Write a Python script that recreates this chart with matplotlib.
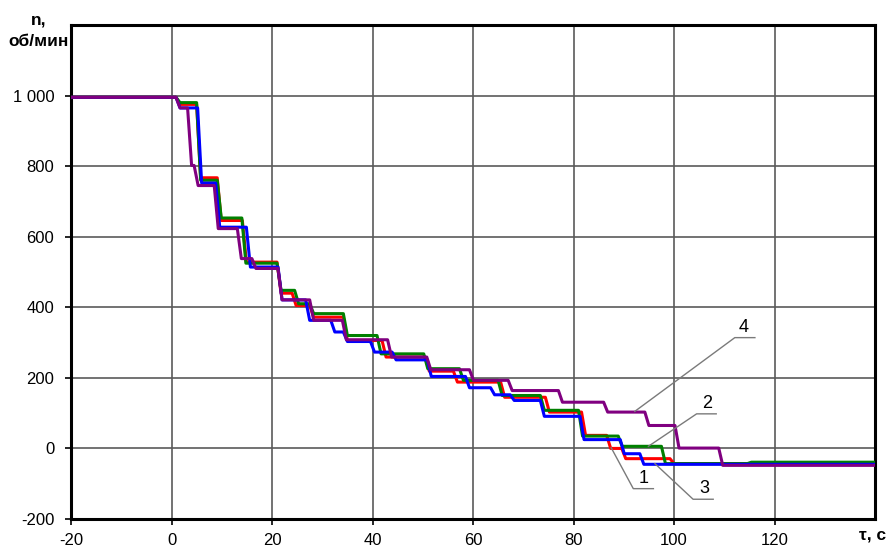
import matplotlib
matplotlib.use('Agg')
from matplotlib import pyplot as plt
from matplotlib.ticker import FuncFormatter
import numpy as np

plt.rcParams['font.family'] = ['Liberation Sans', 'DejaVu Sans']
plt.rcParams['axes.unicode_minus'] = False

# switching times (s) and speed levels (rpm) for each curve:
# level[i] holds from switch[i-1] until switch[i]
t_start, t_end = -20, 140

switch_1 = [0.9, 5.0, 9.1, 14.1, 21.0, 24.0, 27.5, 34.2, 41.9, 50.5, 56.1, 65.5, 74.4, 81.6, 86.6, 89.6, 99.2]
level_1 = [995, 975, 767, 646, 528, 440, 405, 372, 306, 259, 219, 188, 145, 103, 37, 0, -29, -43]

switch_2 = [0.9, 5.0, 9.1, 14.0, 21.0, 24.5, 27.5, 34.2, 40.9, 50.2, 57.3, 65.0, 73.4, 81.0, 88.9, 97.5, 114.6]
level_2 = [995, 980, 760, 653, 525, 448, 410, 382, 320, 268, 226, 193, 150, 108, 35, 6, -43, -39]

switch_3 = [0.9, 5.2, 8.8, 14.9, 21.2, 26.7, 31.7, 34.2, 39.6, 43.9, 50.9, 58.5, 63.5, 67.4, 73.4, 81.3, 89.3, 93.2]
level_3 = [995, 965, 752, 627, 514, 421, 363, 330, 303, 273, 251, 204, 172, 152, 136, 91, 25, -15, -45]

switch_4 = [0.9, 3.2, 4.5, 8.5, 13.1, 16.0, 21.2, 27.5, 34.0, 43.0, 50.8, 59.3, 67.0, 77.0, 86.0, 94.2, 100.2, 108.9]
level_4 = [995, 965, 802, 745, 623, 538, 510, 421, 363, 308, 259, 223, 193, 164, 131, 103, 65, 1, -48]

colors = ['#ff0000', '#008000', '#0000ff', '#800080']

# curve labels: (text, leader start, elbow, underline end, text position)
labels = [
    ('1', (87.5, 2), (91.9, -114), (95.9, -114), (93.9, -84)),
    ('2', (94.9, 6), (104.5, 98), (108.4, 98), (106.5, 126)),
    ('3', (96.2, -43), (103.8, -144), (107.8, -144), (106.0, -114)),
    ('4', (92.2, 105), (112.1, 314), (116.1, 314), (113.9, 344)),
]

x_ticks = np.arange(-20, 121, 20)
y_ticks = np.arange(-200, 1001, 200)

RAMP = 0.8  # duration of each speed change, s


def step_path(switch, level):
    t = [t_start]
    n = [level[0]]
    for i, ts in enumerate(switch):
        t += [ts, ts + RAMP]
        n += [level[i], level[i + 1]]
    t.append(t_end)
    n.append(level[-1])
    return t, n


fig = plt.figure(figsize=(8.9, 5.47), dpi=100)
ax = fig.add_axes([71 / 890, 1 - 519 / 547, 804 / 890, 494 / 547])

ax.grid(True, color='#5a5a5a', lw=1.2)
ax.set_axisbelow(True)

for sw, lv, c in zip([switch_1, switch_2, switch_3, switch_4],
                     [level_1, level_2, level_3, level_4], colors):
    t, n = step_path(sw, lv)
    ax.plot(t, n, color=c, lw=2.2, solid_joinstyle='round', zorder=3)

for txt, p0, p1, p2, pt in labels:
    ax.plot([p0[0], p1[0], p2[0]], [p0[1], p1[1], p2[1]], color='#7a7a7a', lw=1.0, zorder=4)
    ax.text(pt[0], pt[1], txt, fontsize=13, ha='center', va='center', zorder=5)

ax.set_xlim(t_start, t_end)
ax.set_ylim(-200, 1200)
ax.set_xticks(x_ticks)
ax.set_yticks(y_ticks)
ax.yaxis.set_major_formatter(FuncFormatter(lambda v, p: '{:,.0f}'.format(v).replace(',', ' ')))
ax.tick_params(axis='both', direction='out', length=4, width=1.2, labelsize=12, color='black')
ax.tick_params(axis='y', pad=8)
ax.tick_params(axis='x', pad=6)

for spine in ['top', 'bottom', 'left', 'right']:
    ax.spines[spine].set_linewidth(2.2)
    ax.spines[spine].set_color('black')

fig.text(39 / 890, 1 - 20 / 547, 'n,', fontsize=12.5, fontweight='bold', ha='center', va='center')
fig.text(39 / 890, 1 - 41 / 547, 'об/мин', fontsize=12.5, fontweight='bold', ha='center', va='center')
fig.text(873 / 890, 1 - 535 / 547, 'τ, с', fontsize=12.5, fontweight='bold', ha='center', va='center')

fig.savefig('out.png', dpi=100)
